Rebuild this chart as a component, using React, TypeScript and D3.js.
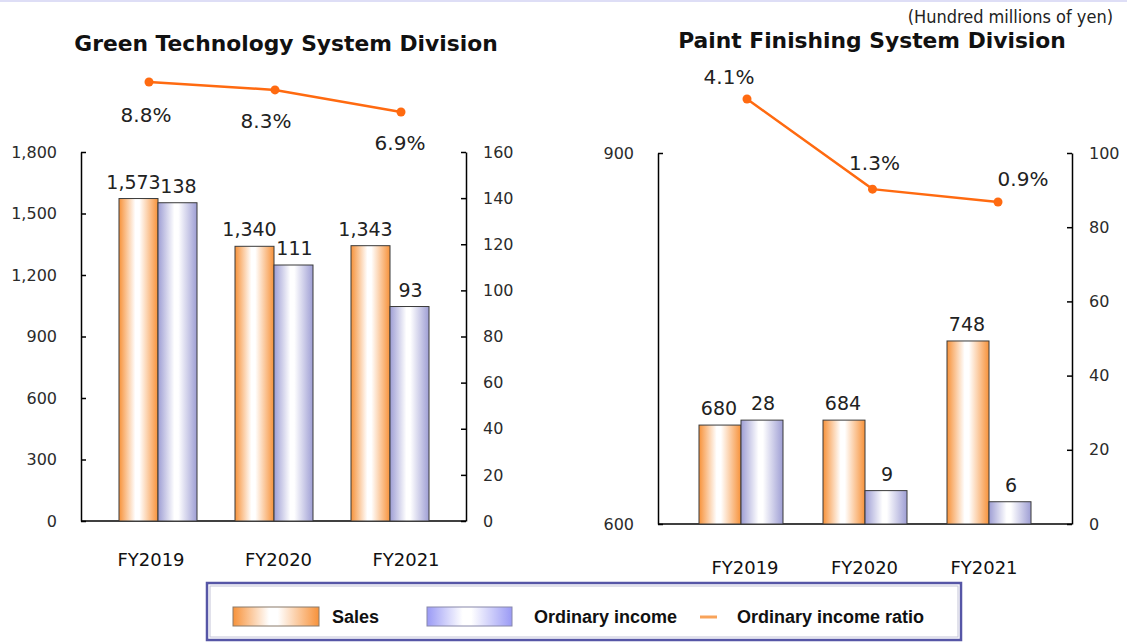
import React, { useEffect, useRef } from "react";
import * as d3 from "d3";

// fiscal years shown on both panels
const years = ["FY2019", "FY2020", "FY2021"];

// Green Technology System Division
const greenSales = [1573, 1340, 1343];
const greenIncome = [138, 111, 93];
const greenRatio = [8.8, 8.3, 6.9];
const greenSalesTicks = [0, 300, 600, 900, 1200, 1500, 1800];
const greenIncomeTicks = [0, 20, 40, 60, 80, 100, 120, 140, 160];

// Paint Finishing System Division
const paintSales = [680, 684, 748];
const paintIncome = [28, 9, 6];
const paintRatio = [4.1, 1.3, 0.9];
const paintSalesTicks = [600, 900];
const paintIncomeTicks = [0, 20, 40, 60, 80, 100];

const legendLabels = ["Sales", "Ordinary income", "Ordinary income ratio"];
const unitLabel = "(Hundred millions of yen)";

const FONT = "'DejaVu Sans', Verdana, sans-serif";
const LEGEND_FONT = "'Liberation Sans', Arial, sans-serif";
const LINE_COLOR = "#ff6a10";

// layout of each panel (pixels), kept apart from the values
const panels = [
    {
        title: "Green Technology System Division",
        titleX: 286, titleY: 51,
        sales: greenSales, income: greenIncome, ratio: greenRatio,
        salesTicks: greenSalesTicks, incomeTicks: greenIncomeTicks,
        salesDomain: [0, 1800], incomeDomain: [0, 160], ratioDomain: [6.9, 8.8],
        left: 81, right: 466, top: 152, bottom: 521,
        bandRange: [100, 448], barW: 39, salesLabelDx: -5,
        lineRange: [149, 401], ratioRange: [112, 82],
        catRange: [151, 406], catY: 566,
        ratioOffsets: [[-3, 40], [-9, 38], [-1, 38]],
    },
    {
        title: "Paint Finishing System Division",
        titleX: 872, titleY: 48,
        sales: paintSales, income: paintIncome, ratio: paintRatio,
        salesTicks: paintSalesTicks, incomeTicks: paintIncomeTicks,
        salesDomain: [600, 900], incomeDomain: [0, 100], ratioDomain: [0.9, 4.1],
        left: 658, right: 1072, top: 153, bottom: 524,
        bandRange: [679, 1051], barW: 42, salesLabelDx: -1,
        lineRange: [747, 998], ratioRange: [202, 99],
        catRange: [745, 984], catY: 574,
        ratioOffsets: [[-18, -15], [2, -19], [25, -16]],
    },
];

const addGradient = (defs, id, edge) => {
    const grad = defs.append("linearGradient").attr("id", id)
        .attr("x1", "0%").attr("x2", "100%").attr("y1", "0%").attr("y2", "0%");
    grad.append("stop").attr("offset", "0%").attr("stop-color", edge);
    grad.append("stop").attr("offset", "42%").attr("stop-color", "#ffffff");
    grad.append("stop").attr("offset", "52%").attr("stop-color", "#ffffff");
    grad.append("stop").attr("offset", "100%").attr("stop-color", edge);
};

const styleAxis = (g) => {
    g.attr("font-family", FONT).attr("font-size", 16);
    g.select(".domain").attr("stroke", "#000").attr("stroke-width", 1.5);
    g.selectAll(".tick line").attr("stroke", "#000").attr("stroke-width", 1.5);
    g.selectAll(".tick text").attr("fill", "#2b2b2b");
};

export default function App() {
    const svgRef = useRef(null);

    useEffect(() => {
        const svg = d3.select(svgRef.current);
        svg.selectAll("*").remove();

        const defs = svg.append("defs");
        addGradient(defs, "salesGrad", "#f7923a");
        addGradient(defs, "incomeGrad", "#9e9ed4");
        addGradient(defs, "legendIncomeGrad", "#9a9af5");

        svg.append("rect").attr("x", 0).attr("y", 0).attr("width", 1127).attr("height", 642).attr("fill", "#fff");
        svg.append("rect").attr("x", 0).attr("y", 0).attr("width", 1127).attr("height", 2).attr("fill", "#dedef6");

        svg.append("text")
            .attr("x", 1113).attr("y", 23)
            .attr("text-anchor", "end")
            .attr("font-family", "'DejaVu Sans Condensed', 'DejaVu Sans', sans-serif")
            .attr("font-size", 18)
            .attr("fill", "#222")
            .text(unitLabel);

        panels.forEach((p) => {
            const g = svg.append("g");

            g.append("text")
                .attr("x", p.titleX).attr("y", p.titleY)
                .attr("text-anchor", "middle")
                .attr("font-family", FONT).attr("font-weight", "bold").attr("font-size", 21.8)
                .attr("fill", "#111")
                .text(p.title);

            const yS = d3.scaleLinear().domain(p.salesDomain).range([p.bottom, p.top]);
            const yI = d3.scaleLinear().domain(p.incomeDomain).range([p.bottom, p.top]);
            const yR = d3.scaleLinear().domain(p.ratioDomain).range(p.ratioRange);
            const xBand = d3.scaleBand().domain(years).range(p.bandRange).padding(0);
            const xLine = d3.scalePoint().domain(years).range(p.lineRange);
            const xCat = d3.scalePoint().domain(years).range(p.catRange);

            const fmt = d3.format(",");

            // axes
            g.append("g")
                .attr("transform", `translate(${p.left},0)`)
                .call(d3.axisLeft(yS).tickValues(p.salesTicks).tickSize(-5).tickSizeOuter(0).tickPadding(24).tickFormat(fmt))
                .call(styleAxis);

            g.append("g")
                .attr("transform", `translate(${p.right},0)`)
                .call(d3.axisRight(yI).tickValues(p.incomeTicks).tickSize(-5).tickSizeOuter(0).tickPadding(17))
                .call(styleAxis);

            g.append("line")
                .attr("x1", p.left).attr("x2", p.right)
                .attr("y1", p.bottom).attr("y2", p.bottom)
                .attr("stroke", "#000").attr("stroke-width", 1.5);

            // bars
            const offset = (xBand.bandwidth() - 2 * p.barW) / 2;
            g.selectAll(".sales").data(p.sales).enter().append("rect")
                .attr("x", (d, i) => xBand(years[i]) + offset)
                .attr("y", (d) => yS(d))
                .attr("width", p.barW)
                .attr("height", (d) => p.bottom - yS(d))
                .attr("fill", "url(#salesGrad)")
                .attr("stroke", "#3a3a3a").attr("stroke-width", 1);

            g.selectAll(".income").data(p.income).enter().append("rect")
                .attr("x", (d, i) => xBand(years[i]) + offset + p.barW)
                .attr("y", (d) => yI(d))
                .attr("width", p.barW)
                .attr("height", (d) => p.bottom - yI(d))
                .attr("fill", "url(#incomeGrad)")
                .attr("stroke", "#3a3a3a").attr("stroke-width", 1);

            // bar labels
            g.selectAll(".salesLabel").data(p.sales).enter().append("text")
                .attr("x", (d, i) => xBand(years[i]) + offset + p.barW / 2 + p.salesLabelDx)
                .attr("y", (d) => yS(d) - 10)
                .attr("text-anchor", "middle")
                .attr("font-family", FONT).attr("font-size", 19).attr("fill", "#222")
                .text((d) => fmt(d));

            g.selectAll(".incomeLabel").data(p.income).enter().append("text")
                .attr("x", (d, i) => xBand(years[i]) + offset + p.barW * 1.5 + 1)
                .attr("y", (d) => yI(d) - 10)
                .attr("text-anchor", "middle")
                .attr("font-family", FONT).attr("font-size", 19).attr("fill", "#222")
                .text((d) => fmt(d));

            // category labels
            g.selectAll(".cat").data(years).enter().append("text")
                .attr("x", (d) => xCat(d))
                .attr("y", p.catY)
                .attr("text-anchor", "middle")
                .attr("font-family", FONT).attr("font-size", 18).attr("fill", "#111")
                .text((d) => d);

            // ratio line
            const line = d3.line()
                .x((d, i) => xLine(years[i]))
                .y((d) => yR(d));

            g.append("path")
                .datum(p.ratio)
                .attr("d", line)
                .attr("fill", "none")
                .attr("stroke", LINE_COLOR)
                .attr("stroke-width", 2.5);

            g.selectAll(".dot").data(p.ratio).enter().append("circle")
                .attr("cx", (d, i) => xLine(years[i]))
                .attr("cy", (d) => yR(d))
                .attr("r", 4.5)
                .attr("fill", LINE_COLOR);

            g.selectAll(".ratioLabel").data(p.ratio).enter().append("text")
                .attr("x", (d, i) => xLine(years[i]) + p.ratioOffsets[i][0])
                .attr("y", (d, i) => yR(d) + p.ratioOffsets[i][1])
                .attr("text-anchor", "middle")
                .attr("font-family", FONT).attr("font-size", 20).attr("fill", "#222")
                .text((d) => `${d.toFixed(1)}%`);
        });

        // legend
        const lg = svg.append("g");
        lg.append("rect")
            .attr("x", 207).attr("y", 583).attr("width", 754).attr("height", 57)
            .attr("fill", "#fff").attr("stroke", "#5656a6").attr("stroke-width", 2.5);
        lg.append("rect")
            .attr("x", 210).attr("y", 586).attr("width", 748).attr("height", 51)
            .attr("fill", "none").attr("stroke", "#c4c4d8").attr("stroke-width", 1);

        lg.append("rect")
            .attr("x", 233).attr("y", 607).attr("width", 86).attr("height", 19)
            .attr("fill", "url(#salesGrad)").attr("stroke", "#8a7a6a").attr("stroke-width", 1);
        lg.append("rect")
            .attr("x", 427).attr("y", 607).attr("width", 85).attr("height", 19)
            .attr("fill", "url(#legendIncomeGrad)").attr("stroke", "#8888aa").attr("stroke-width", 1);
        lg.append("line")
            .attr("x1", 700).attr("x2", 717).attr("y1", 617).attr("y2", 617)
            .attr("stroke", "#f8a35a").attr("stroke-width", 3);

        const legendX = [332, 534, 737];
        lg.selectAll(".legendText").data(legendLabels).enter().append("text")
            .attr("x", (d, i) => legendX[i])
            .attr("y", 623)
            .attr("font-family", LEGEND_FONT).attr("font-weight", "bold").attr("font-size", 18)
            .attr("fill", "#111")
            .text((d) => d);
    }, []);

    return (
        <svg
            ref={svgRef}
            width={1127}
            height={642}
            style={{ position: "absolute", left: 0, top: 0, display: "block" }}
        ></svg>
    );
}
